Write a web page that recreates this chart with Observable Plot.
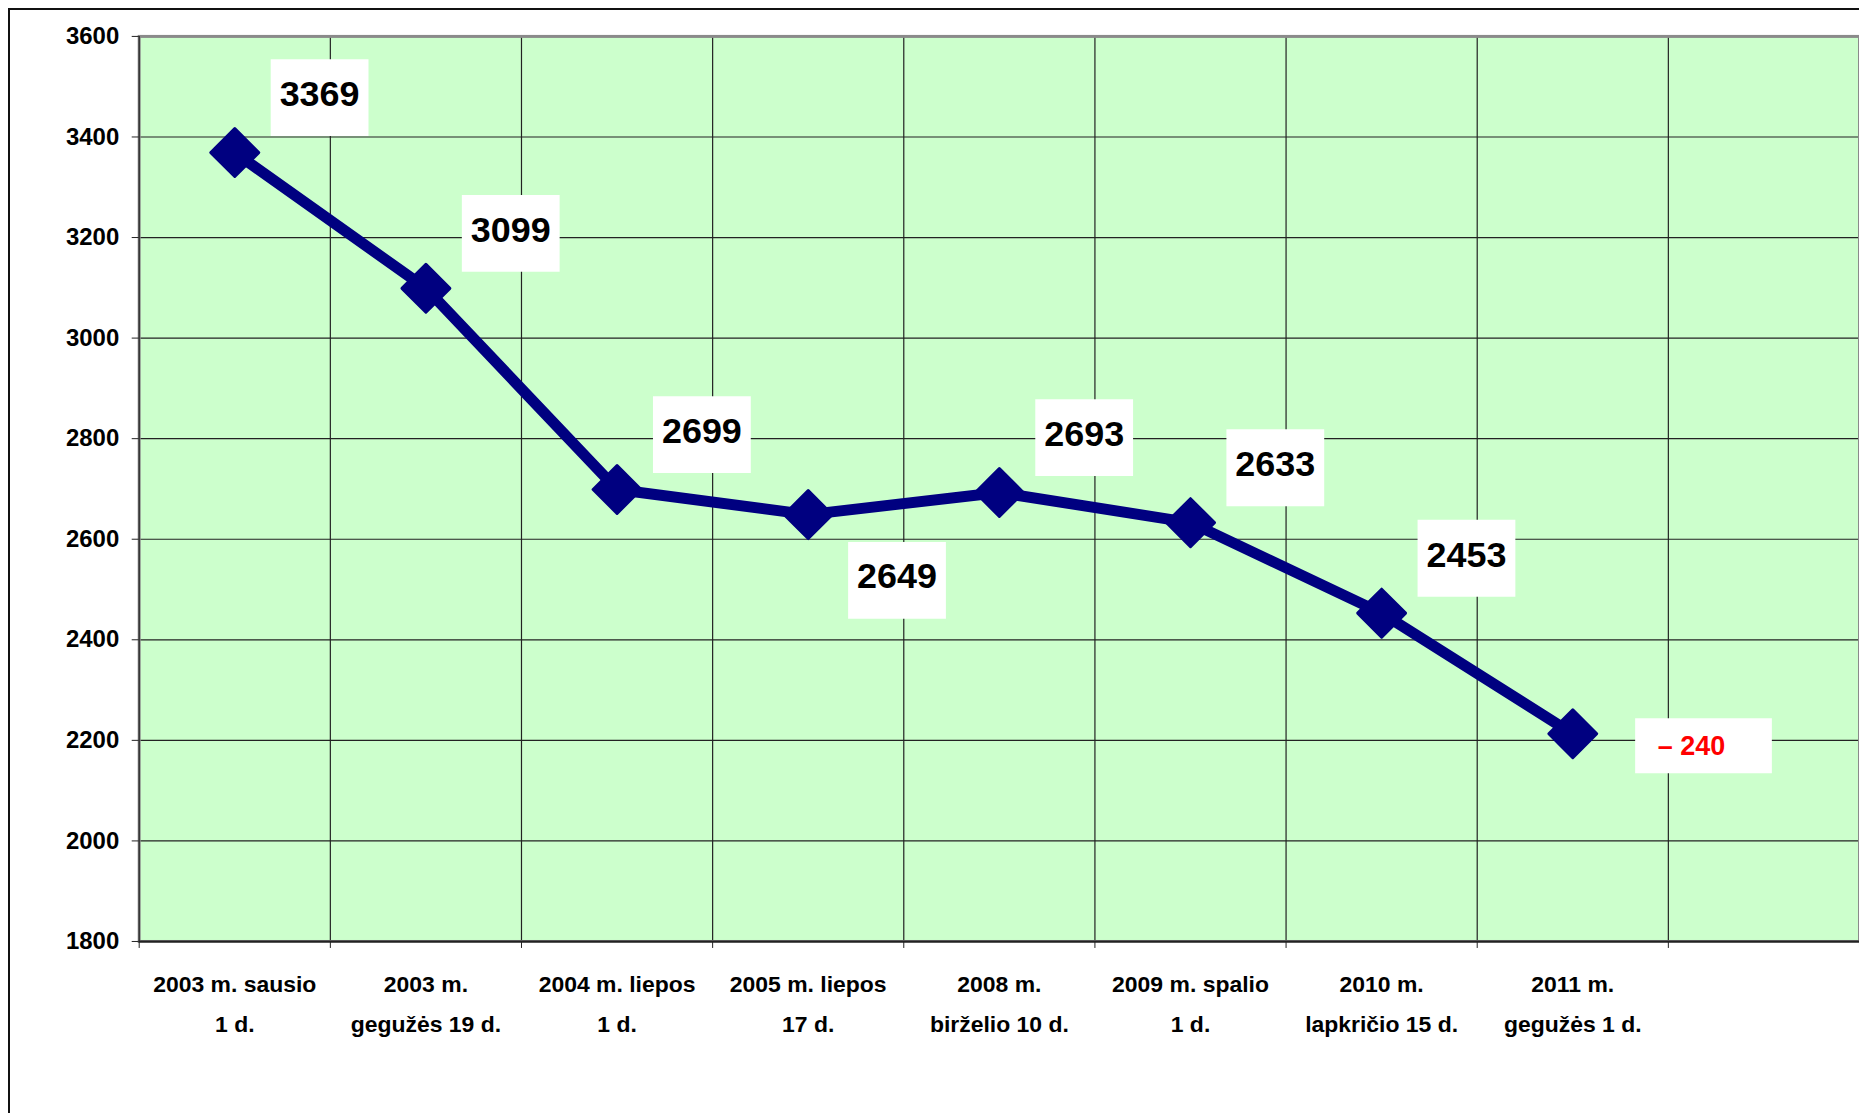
<!DOCTYPE html>
<html>
<head>
<meta charset="utf-8">
<script src="https://cdn.jsdelivr.net/npm/d3@7"></script>
<script src="https://cdn.jsdelivr.net/npm/@observablehq/plot@0.6"></script>
<style>
  html, body { margin: 0; padding: 0; background: #ffffff; overflow: hidden; width: 1859px; height: 1113px; }
  #wrap { position: relative; width: 1859px; height: 1113px; overflow: hidden; }
  #border { position: absolute; left: 8px; top: 8px; width: 3000px; height: 3000px;
            border-left: 2px solid #111; border-top: 2px solid #111; box-sizing: border-box; }
  #chart { position: absolute; left: 0; top: 0; }
</style>
</head>
<body>
<div id="wrap"><div id="border"></div><div id="chart"></div></div>
<script>
// ---- data ----
const categories = [
  "2003 m. sausio\n1 d.",
  "2003 m.\ngegužės 19 d.",
  "2004 m. liepos\n1 d.",
  "2005 m. liepos\n17 d.",
  "2008 m.\nbirželio 10 d.",
  "2009 m. spalio\n1 d.",
  "2010 m.\nlapkričio 15 d.",
  "2011 m.\ngegužės 1 d."
];
const values = [3369, 3099, 2699, 2649, 2693, 2633, 2453, 2213];
const pointLabels = ["3369", "3099", "2699", "2649", "2693", "2633", "2453", "– 240"];
const labelPlacement = ["above", "above", "above", "below", "above", "above", "above", "change"];
const yTicks = [1800, 2000, 2200, 2400, 2600, 2800, 3000, 3200, 3400, 3600];

// ---- table ----
const rows = categories.map((c, i) => ({
  i, x: i + 0.5, category: c, value: values[i], label: pointLabels[i], place: labelPlacement[i]
}));
const nBands = categories.length + 1;
const bandEdges = d3.range(0, nBands + 1);

const FONT = "'Liberation Sans', Arial, Helvetica, sans-serif";
const NAVY = "#000080";

const boxSymbol = (w, h) => ({ draw(ctx) { ctx.rect(-w / 2, -h / 2, w, h); } });
const diamond = { draw(ctx) { const h = 24; ctx.moveTo(0, -h); ctx.lineTo(h, 0); ctx.lineTo(0, h); ctx.lineTo(-h, 0); ctx.closePath(); } };

const above = rows.filter(d => d.place === "above");
const below = rows.filter(d => d.place === "below");
const change = rows.filter(d => d.place === "change");

const chart = Plot.plot({
  width: 1863,
  height: 1113,
  marginLeft: 139,
  marginRight: 0,
  marginTop: 36,
  marginBottom: 170,
  style: { fontFamily: FONT, color: "#000", background: "transparent", overflow: "visible" },
  x: { domain: [0, nBands], axis: null },
  y: { domain: [1800, 3600], axis: null },
  marks: [
    Plot.frame({ fill: "#CCFFCC" }),
    Plot.gridY({ ticks: yTicks, stroke: "#222", strokeOpacity: 1, strokeWidth: 1.2 }),
    Plot.gridX({ ticks: bandEdges, stroke: "#222", strokeOpacity: 1, strokeWidth: 1.2 }),
    Plot.frame({ stroke: "#8a8a8a", strokeWidth: 3 }),
    Plot.ruleY([1800], { stroke: "#222", strokeWidth: 2 }),
    Plot.ruleX([0], { stroke: "#333", strokeWidth: 1.5 }),
    Plot.axisY({ ticks: yTicks, tickFormat: d => String(d), tickSize: 7, tickPadding: 13, fontSize: 24, fontWeight: "bold", label: null, stroke: "#222" }),
    Plot.axisX({ ticks: bandEdges, tickSize: 7, tickFormat: () => "", label: null, stroke: "#222" }),
    Plot.text(rows, {
      x: "x", frameAnchor: "bottom", dy: 23, text: "category", lineAnchor: "top",
      lineHeight: 1.72, fontSize: 23, fontWeight: "bold", fill: "#000"
    }),
    Plot.line(rows, { x: "x", y: "value", stroke: NAVY, strokeWidth: 11, strokeLinejoin: "round" }),
    Plot.dot(rows, { x: "x", y: "value", symbol: diamond, fill: NAVY, stroke: NAVY, strokeWidth: 3, strokeLinejoin: "round" }),
    // label boxes
    Plot.dot(above, { x: "x", y: "value", symbol: boxSymbol(98, 77), fill: "white", dx: 85, dy: -55 }),
    Plot.dot(below, { x: "x", y: "value", symbol: boxSymbol(98, 77), fill: "white", dx: 89, dy: 66 }),
    Plot.dot(change, { x: "x", y: "value", symbol: boxSymbol(137, 55), fill: "white", dx: 131, dy: 12 }),
    // label texts
    Plot.text(above, { x: "x", y: "value", text: "label", dx: 85, dy: -58, fontSize: 36, fontWeight: "bold", fill: "#000" }),
    Plot.text(below, { x: "x", y: "value", text: "label", dx: 89, dy: 62, fontSize: 36, fontWeight: "bold", fill: "#000" }),
    Plot.text(change, { x: "x", y: "value", text: "label", dx: 119, dy: 13, fontSize: 27, fontWeight: "bold", fill: "#FF0000" })
  ]
});
document.getElementById("chart").appendChild(chart);
</script>
</body>
</html>
